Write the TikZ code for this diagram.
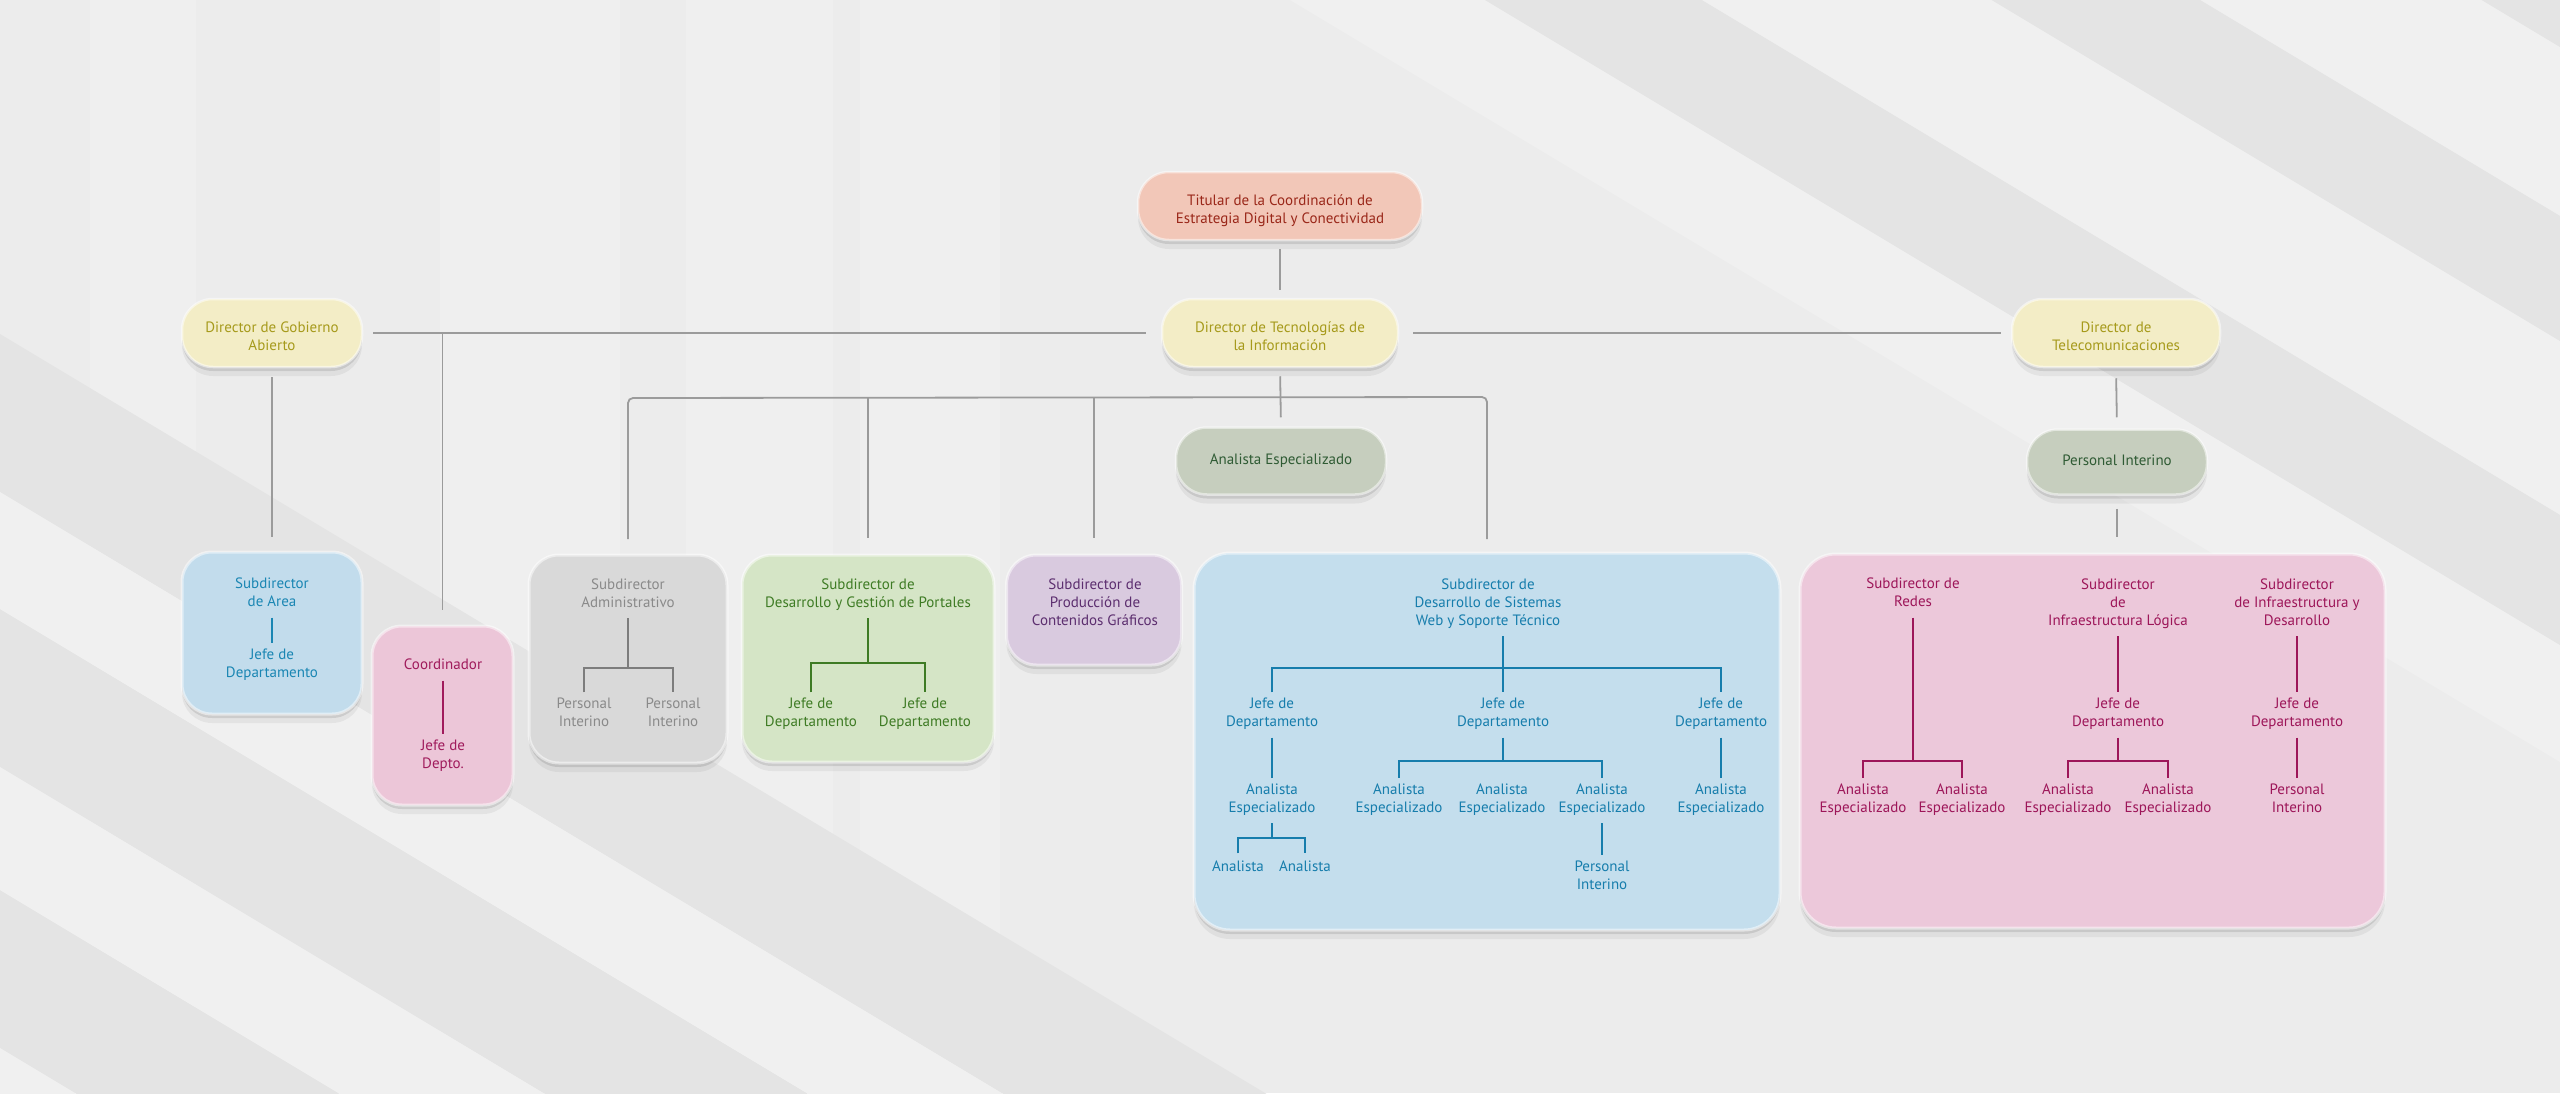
\documentclass[tikz,border=0pt]{standalone}
\usepackage{fontspec}
\setmainfont{PT Sans}
\usetikzlibrary{shadows}
\definecolor{bg}{HTML}{ECECEC}
\definecolor{bgvert}{HTML}{EFEFEF}
\definecolor{bgdark}{HTML}{E4E4E4}
\definecolor{bglight}{HTML}{F0F0F0}
\definecolor{lineg}{HTML}{9B9B9B}
\definecolor{titF}{HTML}{F2C7B8}
\definecolor{titT}{HTML}{9A2719}
\definecolor{dirF}{HTML}{F3EDC6}
\definecolor{dirT}{HTML}{A69A1B}
\definecolor{sgF}{HTML}{C6CEBE}
\definecolor{sgT}{HTML}{2F5B34}
\definecolor{arF}{HTML}{C2DCEC}
\definecolor{arT}{HTML}{1A86B3}
\definecolor{coF}{HTML}{ECC6D8}
\definecolor{coT}{HTML}{A01B5C}
\definecolor{grF}{HTML}{D9D9D9}
\definecolor{grT}{HTML}{8A8A8A}
\definecolor{grL}{HTML}{7D7D7D}
\definecolor{gnF}{HTML}{D5E5C6}
\definecolor{gnT}{HTML}{3E7B24}
\definecolor{puF}{HTML}{D9CADF}
\definecolor{puT}{HTML}{5C2E6F}
\definecolor{blF}{HTML}{C4DEED}
\definecolor{blT}{HTML}{167DAC}
\definecolor{pkF}{HTML}{ECC8DA}
\definecolor{pkT}{HTML}{9D1659}
\begin{document}
\begin{tikzpicture}[x=1pt,y=-1pt,
  conn/.style={draw=lineg, line width=1.8pt},
  shad/.style={drop shadow={shadow xshift=0pt,shadow yshift=-4pt,opacity=.10,fill=black},
               drop shadow={shadow xshift=0pt,shadow yshift=-9pt,opacity=.05,fill=black}},
  txt/.style={font=\fontsize{15}{18}\selectfont, align=center, inner xsep=2pt, inner ysep=5.5pt,
              execute at begin node=\strut, execute at end node=\strut},
  pill/.style={txt, rounded corners=31pt, minimum height=68pt, draw=white, draw opacity=.5,
               line width=2.5pt, shad},
  box/.style={rounded corners=30pt, inner sep=0pt, draw=white, draw opacity=.5, line width=3pt, shad},
  arline/.style={draw=arT, line width=2pt},
  coline/.style={draw=coT, line width=2pt},
  grline/.style={draw=grL, line width=2pt},
  gnline/.style={draw=gnT, line width=2pt},
  blline/.style={draw=blT, line width=2pt},
  pkline/.style={draw=pkT, line width=2pt}]
\useasboundingbox (0,0) rectangle (2560,1093);
% background
\fill[bg] (0,0) rectangle (2560,1093);
\begin{scope}
\clip (0,0) rectangle (2560,1093);
\foreach \l/\r in {90/196,440/620,686/833,860/1000}
  \fill[bgvert] (\l,0) rectangle (\r,1093);
\foreach \a/\b in {334/492,609/767,890/1048}
  \fill[bgdark] (0,\a) -- (0,\b) -- (2560,\b+1536) -- (2560,\a+1536) -- cycle;
\foreach \a/\b in {492/609,767/890,1048/1170}
  \fill[bglight] (0,\a) -- (0,\b) -- (2560,\b+1536) -- (2560,\a+1536) -- cycle;
\foreach \a/\b in {-891/-774,-1195/-1021,-1489/-1320}
  \fill[bglight] (0,\a) -- (0,\b) -- (2560,\b+1536) -- (2560,\a+1536) -- cycle;
\foreach \a/\b in {-1021/-891,-1320/-1195,-1640/-1489}
  \fill[bgdark] (0,\a) -- (0,\b) -- (2560,\b+1536) -- (2560,\a+1536) -- cycle;
\end{scope}

% top level pills
\node[pill, fill=titF, text=titT, minimum width=284pt] (tit) at (1280,206) {\rule{0pt}{23pt}Titular de la Coordinación de\\Estrategia Digital y Conectividad};
\node[pill, fill=dirF, text=dirT, minimum width=236pt] (dtec) at (1280,333) {\rule{0pt}{23pt}Director de Tecnologías de\\la Información};
\node[pill, fill=dirF, text=dirT, minimum width=180pt] (dgob) at (272,333) {\rule{0pt}{23pt}Director de Gobierno\\Abierto};
\node[pill, fill=dirF, text=dirT, minimum width=208pt] (dtel) at (2116,333) {\rule{0pt}{23pt}Director de\\Telecomunicaciones};
\node[pill, fill=sgF, text=sgT, minimum width=210pt, minimum height=67pt] (ae) at (1281,461) {Analista Especializado};
\node[pill, fill=sgF, text=sgT, minimum width=180pt, minimum height=65pt] (pint) at (2117,462) {Personal Interino};

% boxes
\node[box, fill=arF, minimum width=180pt, minimum height=162pt] (areabox) at (272,633) {};
\node[box, fill=coF, minimum width=141pt, minimum height=179pt] (cobox) at (442.5,715.5) {};
\node[box, fill=grF, minimum width=198pt, minimum height=208pt] (grbox) at (628,659) {};
\node[box, fill=gnF, minimum width=252pt, minimum height=207pt] (gnbox) at (868,658.5) {};
\node[box, fill=puF, minimum width=175pt, minimum height=110pt] (pubox) at (1094,610) {};
\node[box, fill=blF, rounded corners=36pt, minimum width=586pt, minimum height=377pt] (blbox) at (1487,741.5) {};
\node[box, fill=pkF, rounded corners=36pt, minimum width=585pt, minimum height=374pt] (pkbox) at (2092.5,741) {};

% top connectors
\draw[conn, shorten <=8pt, shorten >=8pt] (tit.south) -- (dtec.north);
\draw[conn, shorten <=10pt, shorten >=15pt] (dgob.east) -- (dtec.west);
\draw[conn, shorten <=14pt, shorten >=10pt] (dtec.east) -- (dtel.west);
\draw[conn, shorten <=8pt, shorten >=9pt] (dtec.south) -- (ae.north);
\draw[conn, shorten >=15pt] (cobox.north |- dgob.east) -- (cobox.north);
\draw[conn, shorten <=9pt, shorten >=14pt] (dgob.south) -- (areabox.north);
\draw[conn, shorten <=10pt, shorten >=11pt] (dtel.south) -- (pint.north);
\draw[conn, shorten <=13pt, shorten >=16pt] (pint.south) -- (pint.south |- pkbox.north);
\draw[conn, rounded corners=5pt] (grbox.north |- 0,539) -- (grbox.north |- 0,398) -- (blbox.north |- 0,397) -- (blbox.north |- 0,539);
\draw[conn, shorten >=16pt] (gnbox.north |- 0,397) -- (gnbox.north);
\draw[conn, shorten >=16pt] (pubox.north |- 0,397) -- (pubox.north);

% Subdirector de Area
\node[txt, text=arT] (sa) at (272,595) {Subdirector\\de Area};
\node[txt, text=arT] (ja) at (272,665.5) {Jefe de\\Departamento};
\draw[arline] (sa) -- (ja);

% Coordinador
\node[txt, text=coT] (co) at (443,666) {Coordinador};
\node[txt, text=coT] (jd) at (443,757) {Jefe de\\Depto.};
\draw[coline] (co) -- (jd);

% Administrativo
\node[txt, text=grT] (sad) at (628,595.5) {Subdirector\\Administrativo};
\node[txt, text=grT] (pi1) at (584,715) {Personal\\Interino};
\node[txt, text=grT] (pi2) at (673,715) {Personal\\Interino};
\draw[grline] (sad.south) -- (sad.south |- 0,668);
\draw[grline] (pi1.north) -- (pi1.north |- 0,668) -- (pi2.north |- 0,668) -- (pi2.north);

% Desarrollo y Gestion de Portales
\node[txt, text=gnT] (sdg) at (868,595.5) {Subdirector de\\Desarrollo y Gestión de Portales};
\node[txt, text=gnT] (jg1) at (811,715) {Jefe de\\Departamento};
\node[txt, text=gnT] (jg2) at (925,715) {Jefe de\\Departamento};
\draw[gnline] (sdg.south) -- (sdg.south |- 0,663);
\draw[gnline] (jg1.north) -- (jg1.north |- 0,663) -- (jg2.north |- 0,663) -- (jg2.north);

% Produccion de Contenidos
\node[txt, text=puT] (spc) at (1095,604.5) {Subdirector de\\Producción de\\Contenidos Gráficos};

% Desarrollo de Sistemas Web
\node[txt, text=blT] (sds) at (1488,604.5) {Subdirector de\\Desarrollo de Sistemas\\Web y Soporte Técnico};
\node[txt, text=blT] (jb1) at (1272,715) {Jefe de\\Departamento};
\node[txt, text=blT] (jb2) at (1503,715) {Jefe de\\Departamento};
\node[txt, text=blT] (jb3) at (1721,715) {Jefe de\\Departamento};
\draw[blline] (jb2.north |- sds.south) -- (jb2.north);
\draw[blline] (jb1.north) -- (jb1.north |- 0,668) -- (jb3.north |- 0,668) -- (jb3.north);
\node[txt, text=blT] (ab1) at (1272,800.5) {Analista\\Especializado};
\draw[blline] (jb1) -- (ab1);
\node[txt, text=blT] (an1) at (1238,868) {Analista};
\node[txt, text=blT] (an2) at (1305,868) {Analista};
\draw[blline] (ab1.south) -- (ab1.south |- 0,838);
\draw[blline] (an1.north) -- (an1.north |- 0,838) -- (an2.north |- 0,838) -- (an2.north);
\node[txt, text=blT] (ab2) at (1399,800.5) {Analista\\Especializado};
\node[txt, text=blT] (ab3) at (1502,800.5) {Analista\\Especializado};
\node[txt, text=blT] (ab4) at (1602,800.5) {Analista\\Especializado};
\draw[blline] (jb2.south) -- (jb2.south |- 0,761);
\draw[blline] (ab2.north) -- (ab2.north |- 0,761) -- (ab4.north |- 0,761) -- (ab4.north);
\node[txt, text=blT] (pb) at (1602,877.5) {Personal\\Interino};
\draw[blline] (ab4) -- (pb);
\node[txt, text=blT] (ab5) at (1721,800.5) {Analista\\Especializado};
\draw[blline] (jb3) -- (ab5);

% Telecom subordinates
\node[txt, text=pkT] (sr) at (1913,595) {Subdirector de\\Redes};
\node[txt, text=pkT] (ar1) at (1863,800.5) {Analista\\Especializado};
\node[txt, text=pkT] (ar2) at (1962,800.5) {Analista\\Especializado};
\draw[pkline] (sr.south) -- (sr.south |- 0,761);
\draw[pkline] (ar1.north) -- (ar1.north |- 0,761) -- (ar2.north |- 0,761) -- (ar2.north);

\node[txt, text=pkT] (sil) at (2118,604.5) {Subdirector\\de\\Infraestructura Lógica};
\node[txt, text=pkT] (jil) at (2118,715) {Jefe de\\Departamento};
\node[txt, text=pkT] (ail1) at (2068,800.5) {Analista\\Especializado};
\node[txt, text=pkT] (ail2) at (2168,800.5) {Analista\\Especializado};
\draw[pkline] (sil) -- (jil);
\draw[pkline] (jil.south) -- (jil.south |- 0,761);
\draw[pkline] (ail1.north) -- (ail1.north |- 0,761) -- (ail2.north |- 0,761) -- (ail2.north);

\node[txt, text=pkT] (sid) at (2297,604.5) {Subdirector\\de Infraestructura y\\Desarrollo};
\node[txt, text=pkT] (jid) at (2297,715) {Jefe de\\Departamento};
\node[txt, text=pkT] (pid) at (2297,800.5) {Personal\\Interino};
\draw[pkline] (sid) -- (jid);
\draw[pkline] (jid) -- (pid);
\end{tikzpicture}
\end{document}
